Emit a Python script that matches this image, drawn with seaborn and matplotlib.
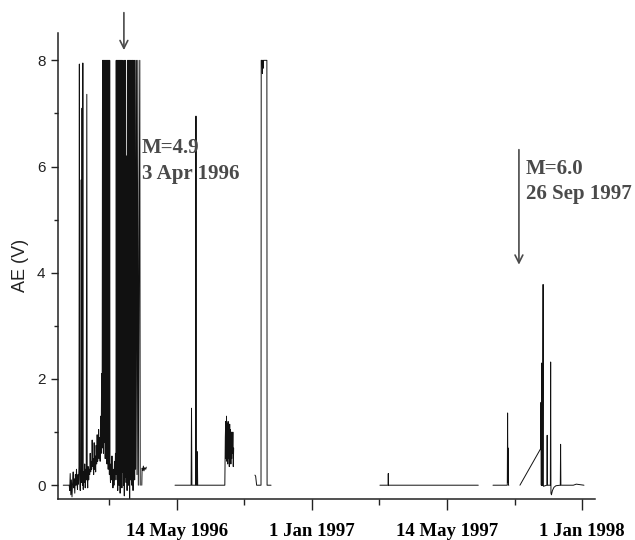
import numpy as np
import pandas as pd
import seaborn as sns
import matplotlib.pyplot as plt

# === 1. Data (x in days, AE in volts) ===
seg1_day = [22, 28, 28.5, 29, 29.6, 30.2, 30.8, 31.4, 32, 32.5, 33, 33.6, 34.2, 34.8, 35.3, 35.8,
            36.3, 36.8, 37.3, 37.8, 38.2, 38.6, 39.1, 39.6, 40.1, 40.5, 40.9, 41.3, 41.7, 42.1,
            42.6, 43.1, 43.6, 44.1, 44.6, 45.1, 45.7, 46.1, 46.6, 47.1, 47.6, 48.1, 48.6, 49.1,
            49.6, 50.1, 50.6, 51.1, 51.6, 52.1, 52.6, 53.1, 53.6, 54.1, 54.6, 55.1, 55.6, 56.1,
            56.6, 57.1, 57.6, 58.1, 58.6, 59.1, 59.6, 60.1, 60.6, 61.1, 61.5, 61.8, 62.1, 62.4,
            62.7, 63.0, 63.3, 63.6, 63.9, 64.2, 64.5, 64.8, 65.1, 65.4, 65.7, 66.0, 66.3, 66.6,
            66.9, 67.2, 67.5, 67.8, 68.1, 68.4, 68.7, 69.0, 69.5, 70.0, 70.5, 71.0, 71.5, 72.0,
            72.5, 73.0, 73.5, 74.0, 74.5, 75.0, 75.3, 75.6, 75.9, 76.2, 76.5, 76.8, 77.1, 77.4,
            77.7, 78.0, 78.3, 78.6, 78.9, 79.2, 79.5, 79.8, 80.1, 80.4, 80.7, 81.0, 81.4, 81.8,
            82.2, 82.6, 83.0, 83.4, 83.8, 84.2, 84.7, 85.2, 85.7, 86.2, 86.6, 87.0, 87.3, 87.6,
            87.9, 88.2, 88.5, 88.8, 89.1, 89.4, 89.7, 90.1, 90.6, 91.0, 91.3, 91.6, 91.9, 92.2,
            92.5, 92.9, 93.4, 93.8, 94.3, 94.8, 95.6, 96.2, 97.0, 97.5, 99.0, 99.4]
seg1_ae = [0.0, 0.0, -0.1, 0.22, -0.18, 0.1, -0.22, 0.05, 0.25, -0.05, 0.12, -0.15, 0.2, 0.0, 0.3, 0.05,
           -0.08, 0.2, 0.02, 0.35, 7.93, 0.1, -0.1, 0.3, 5.75, 0.05, 7.1, 0.0, 7.95, -0.08,
           0.25, 0.05, 0.4, -0.05, 0.3, 0.1, 7.36, 0.15, -0.05, 0.35, 0.1, 0.3, 0.2, 0.6,
           0.25, 0.45, 0.3, 0.85, 0.35, 0.5, 0.2, 0.8, 0.3, 0.55, 0.25, 0.75, 0.4, 0.95,
           0.45, 0.6, 1.05, 0.5, 0.9, 0.45, 1.3, 0.6, 2.1, 0.7, 8, 0.9, 8, 0.6,
           8, 0.8, 8, 1.8, 8, 0.5, 8, 4.7, 8, 0.7, 8, 0.4, 8, 0.9,
           8, 0.3, 8, 0.6, 8, 0.2, 8, 0.35, 0.05, 0.4, 0.1, 0.55, 0.15, -0.05,
           0.3, 0.0, 0.45, 0.1, 0.6, 0.2, 8, 1.8, 8, 0.1, 8, -0.1, 8, 0.3,
           8, 0.0, 8, 0.2, 8, -0.15, 8, 0.1, 8, 4.5, 8, -0.05, 8, 0.25,
           6.5, 0.0, 8, -0.2, 8, 0.15, 8, 0.05, 6.2, -0.1, 8, 0.3, 8, 0.0,
           8, 0.2, 8, -0.25, 8, 0.1, 8, 0.3, 8, 0.0, 8, 0.2, 8, -0.1,
           8, 0.25, 8, 0.1, 8, 0.3, 8, 0.2, 8, 0.0, 8, 0.0]

seg2_day = [101.0, 101.3, 102.0, 102.6, 103.2, 104.0, 105.0, 105.5]
seg2_ae = [0.0, 0.32, 0.28, 0.36, 0.27, 0.33, 0.3, 0.34]

seg3_day = [134.4, 150.6, 151.0, 151.4, 155.2, 155.5, 155.8, 156.6, 156.9, 157.2, 184.5, 185.0,
            185.4, 185.8, 186.2, 186.6, 187.0, 187.4, 187.8, 188.2, 188.6, 189.0, 189.4, 189.8,
            190.2, 190.6, 191.0, 191.4, 191.8, 192.2, 192.6, 193.0, 193.4]
seg3_ae = [0.0, 0.0, 1.45, 0.0, 0.0, 6.95, 0.0, 0.0, 0.63, 0.0, 0.0, 0.9,
           1.2, 0.5, 1.3, 0.45, 1.15, 0.4, 1.2, 0.5, 1.1, 0.35, 1.15, 0.45,
           1.05, 0.4, 1.0, 0.5, 0.9, 0.6, 1.0, 0.35, 0.7]

seg4_day = [214.8, 215.5, 216.5, 220.9, 221.1, 222.0, 222.3, 222.6, 223.0, 223.3, 226.8, 227.0, 231.0]
seg4_ae = [0.19, 0.17, 0.0, 0.0, 8, 8, 7.75, 8, 7.85, 8, 8, 0.0, 0.0]

seg5_day = [340.5, 348.7, 348.9, 349.1, 439.4]
seg5_ae = [0.0, 0.0, 0.22, 0.0, 0.0]

seg6_day = [454.2, 468.6, 468.9, 469.2, 469.5, 469.8, 470.1]
seg6_ae = [0.0, 0.0, 1.36, 0.05, 0.7, 0.0, 0.0]

seg7_day = [481.3, 502.2, 502.5, 502.8, 503.1, 503.4, 503.7, 504.0, 504.6, 504.9, 508.4, 508.7,
            509.0, 511.9, 512.2, 512.5, 513.0, 514.0, 515.5, 517.5, 521.9, 522.2, 522.5, 535.0,
            538.0, 545.7]
seg7_ae = [0.0, 0.69, 1.56, 0.0, 2.3, 0.0, 1.2, 0.0, 3.78, -0.02, 0.0, 0.94,
           0.0, 0.0, 2.32, -0.15, -0.18, -0.1, -0.04, -0.01, 0.0, 0.77, 0.0, 0.0,
           0.02, 0.0]

major_ticks = [136, 272, 408, 544]
minor_ticks = [68, 204, 340, 476]
tick_labels = ["14 May 1996", "1 Jan 1997", "14 May 1997", "1 Jan 1998"]

segments = [(seg1_day, seg1_ae), (seg2_day, seg2_ae), (seg3_day, seg3_ae), (seg4_day, seg4_ae),
            (seg5_day, seg5_ae), (seg6_day, seg6_ae), (seg7_day, seg7_ae)]
frames = []
for i, (d, a) in enumerate(segments):
    frames.append(pd.DataFrame({"day": d, "ae": a, "seg": i}))
df = pd.concat(frames, ignore_index=True)

# === 2. Plot ===
sns.set_style("ticks")
plt.rcParams["font.family"] = ["Liberation Sans", "DejaVu Sans"]

fig = plt.figure(figsize=(6.35, 5.4), dpi=100)
ax = fig.add_axes([0.0913, 0.0759, 0.8457, 0.8635])

sns.lineplot(data=df, x="day", y="ae", units="seg", estimator=None, sort=False,
             color="#111111", lw=0.7, ax=ax)

ax.set_xlim(16.7, 556.8)
ax.set_ylim(-0.26, 8.52)
sns.despine(ax=ax)
for s in ["left", "bottom"]:
    ax.spines[s].set_color("#222222")
    ax.spines[s].set_linewidth(1.1)

ax.set_yticks([0, 2, 4, 6, 8])
ax.set_yticks([1, 3, 5, 7], minor=True)
ax.set_xticks(major_ticks)
ax.set_xticks(minor_ticks, minor=True)
ax.set_xticklabels(tick_labels, fontfamily="Liberation Serif", fontweight="bold", fontsize=13.5)
ax.tick_params(axis="y", which="major", length=5, width=1.0, labelsize=11, pad=4, colors="#222222")
ax.tick_params(axis="y", which="minor", length=3, width=1.0, colors="#222222")
ax.tick_params(axis="x", which="major", length=8, width=1.0, pad=9, colors="#222222")
ax.tick_params(axis="x", which="minor", length=4, width=1.0, colors="#222222")
for t in ax.get_xticklabels():
    t.set_color("black")

ax.set_xlabel("")
ax.set_ylabel("AE (V)", fontsize=13, labelpad=6, color="#222222")

# === 3. Earthquake markers ===
note = dict(fontfamily="Liberation Serif", fontweight="bold", fontsize=15, color="#4a4a4a",
            va="center", ha="left")
ax.annotate("", xy=(83, 8.14), xytext=(83, 8.95), annotation_clip=False,
            arrowprops=dict(arrowstyle="->", color="#4a4a4a", lw=1.2, mutation_scale=14))
ax.text(101.2, 6.35, "M=4.9", **note)
ax.text(101.2, 5.86, "3 Apr 1996", **note)

ax.annotate("", xy=(480.3, 4.1), xytext=(480.3, 6.37), annotation_clip=False,
            arrowprops=dict(arrowstyle="->", color="#4a4a4a", lw=1.2, mutation_scale=14))
ax.text(487.4, 5.95, "M=6.0", **note)
ax.text(487.4, 5.48, "26 Sep 1997", **note)

# === 4. Save ===
plt.savefig("out.png", dpi=100)
